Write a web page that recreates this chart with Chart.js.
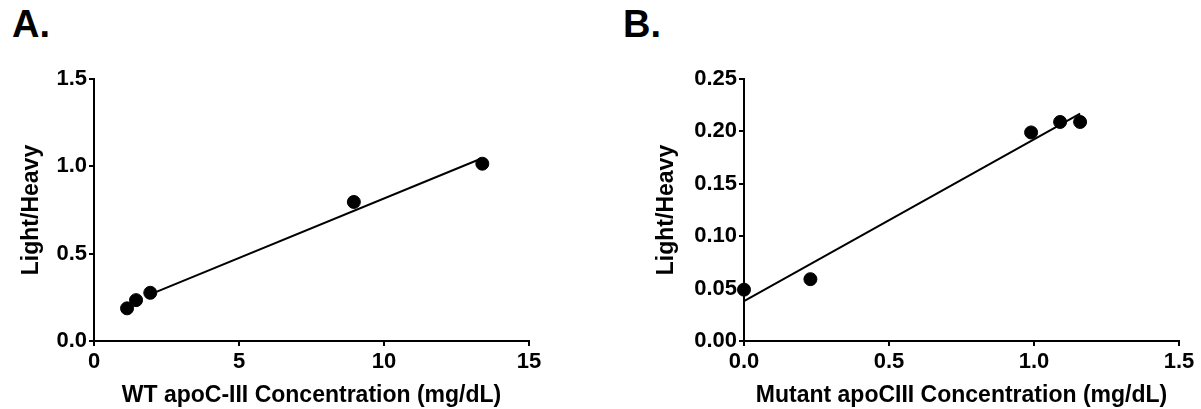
<!DOCTYPE html>
<html>
<head>
<meta charset="utf-8">
<script src="https://cdn.jsdelivr.net/npm/chart.js@4.4.0/dist/chart.umd.min.js"></script>
<style>
  body { margin: 0; background: #fff; width: 1201px; height: 409px; overflow: hidden; position: relative; font-family: "Liberation Sans", Arial, sans-serif; }
  .panel { position: absolute; top: 0; height: 409px; }
  .tag { position: absolute; top: 3px; font-weight: bold; font-size: 38px; color: #000; }
</style>
</head>
<body>
<div class="tag" style="left:12px">A.</div>
<div class="tag" style="left:623px">B.</div>
<div class="panel" style="left:0;width:600px"><canvas id="chartA"></canvas></div>
<div class="panel" style="left:600px;width:601px"><canvas id="chartB"></canvas></div>
<script>
// panel A - wild type
const wtConc = [1.14, 1.45, 1.94, 8.96, 13.39]
const wtRatio = [0.187, 0.234, 0.276, 0.796, 1.015]
const wtFitX = [1.94, 13.36]
const wtFitY = [0.267, 1.045]
const wtXTicks = [0, 5, 10, 15]
const wtYTicks = [0, 0.5, 1.0, 1.5]

// panel B - mutant
const mutConc = [0, 0.229, 0.99, 1.09, 1.159]
const mutRatio = [0.049, 0.059, 0.199, 0.209, 0.209]
const mutFitX = [0, 1.159]
const mutFitY = [0.038, 0.217]
const mutXTicks = [0, 0.5, 1.0, 1.5]
const mutYTicks = [0, 0.05, 0.10, 0.15, 0.20, 0.25]

Chart.defaults.font.family = '"Liberation Sans", Arial, sans-serif'
Chart.defaults.font.weight = 'bold'
Chart.defaults.color = '#000'

const toPoints = (xs, ys) => xs.map((x, i) => ({ x: x, y: ys[i] }))

const makeAxis = (ticks, decimals, title, opts) => ({
  type: 'linear',
  min: ticks[0],
  max: ticks[ticks.length - 1],
  afterBuildTicks: (scale) => { scale.ticks = ticks.map((v) => ({ value: v })) },
  afterFit: (scale) => {
    if (opts.width) scale.width = opts.width
    if (opts.height) scale.height = opts.height
  },
  border: { display: true, color: '#000', width: 2 },
  grid: { display: true, drawOnChartArea: false, drawTicks: true, tickLength: 5, color: '#000', lineWidth: 2 },
  ticks: {
    padding: opts.tickPad,
    font: { size: 22, weight: 'bold' },
    callback: (v) => Number(v).toFixed(decimals)
  },
  title: {
    display: true,
    text: title,
    font: { size: 23, weight: 'bold' },
    padding: opts.titlePad
  }
})

const drawPanel = (id, xs, ys, fitX, fitY, xTicks, xDec, yTicks, yDec, xTitle, padLeft, yWidth, padRight) => {
  new Chart(document.getElementById(id), {
    type: 'scatter',
    data: {
      datasets: [{
        data: toPoints(xs, ys),
        pointRadius: 6.5,
        pointHoverRadius: 6.5,
        backgroundColor: '#000',
        borderColor: '#000',
        clip: false
      }, {
        type: 'line',
        data: toPoints(fitX, fitY),
        borderColor: '#000',
        borderWidth: 2,
        pointRadius: 0,
        fill: false,
        clip: false
      }]
    },
    options: {
      responsive: true,
      maintainAspectRatio: false,
      animation: false,
      events: [],
      layout: { padding: { left: padLeft, top: 79, right: padRight, bottom: 0 } },
      plugins: { legend: { display: false }, tooltip: { enabled: false } },
      scales: {
        x: makeAxis(xTicks, xDec, xTitle, { height: 68, tickPad: 3, titlePad: { top: 4, bottom: 0 } }),
        y: makeAxis(yTicks, yDec, 'Light/Heavy', { width: yWidth, tickPad: 2, titlePad: { top: 18, bottom: 0 } })
      }
    }
  })
}

drawPanel('chartA', wtConc, wtRatio, wtFitX, wtFitY, wtXTicks, 0, wtYTicks, 1,
  'WT apoC-III Concentration (mg/dL)', 0, 94, 71)
drawPanel('chartB', mutConc, mutRatio, mutFitX, mutFitY, mutXTicks, 1, mutYTicks, 2,
  'Mutant apoCIII Concentration (mg/dL)', 35, 109, 22)
</script>
</body>
</html>
